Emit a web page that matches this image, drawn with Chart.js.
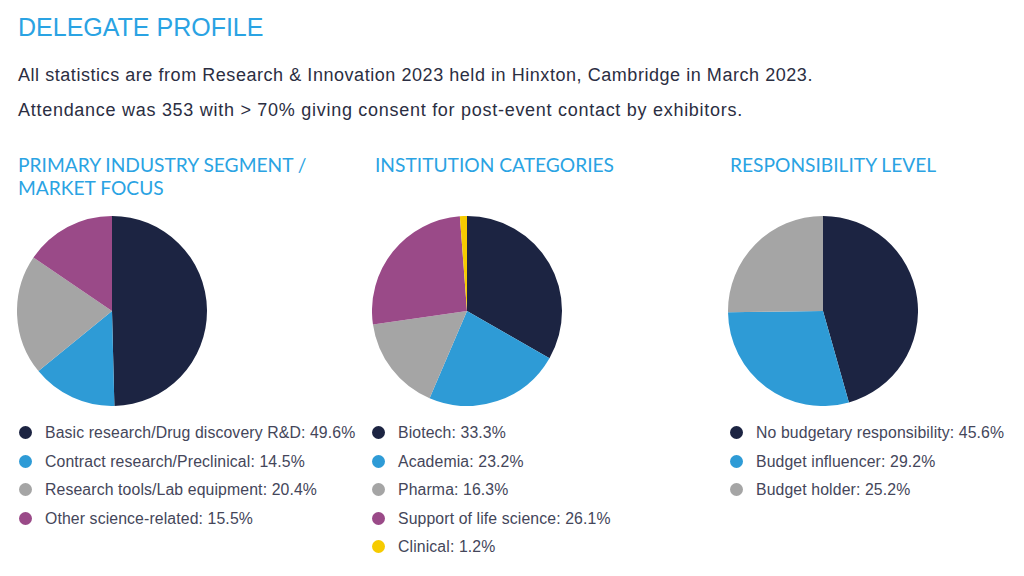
<!DOCTYPE html>
<html>
<head>
<meta charset="utf-8">
<script src="https://cdn.jsdelivr.net/npm/chart.js@4/dist/chart.umd.min.js"></script>
<style>
  html, body { margin: 0; padding: 0; background: #fff; }
  body { width: 1024px; height: 576px; position: relative; overflow: hidden; font-family: "Liberation Sans", Arial, sans-serif; }
  .title { position: absolute; left: 18px; top: 13px; font-size: 25px; color: #2aa3e3; white-space: nowrap; }
  .sub { position: absolute; left: 18px; font-size: 18px; letter-spacing: 0.55px; color: #2b2e42; white-space: nowrap; }
  .head { position: absolute; top: 153px; font-family: Lato, sans-serif; font-size: 19.2px; line-height: 23px; color: #2aa3e3; }
  .pie { position: absolute; top: 216px; width: 190px; height: 190px; }
  .legend { position: absolute; top: 420px; font-size: 15.8px; letter-spacing: 0.12px; color: #44465a; }
  .legend div { height: 28.5px; line-height: 26px; white-space: nowrap; position: relative; padding-left: 26px; }
  .legend span.dot { position: absolute; left: 0; top: 6px; width: 13px; height: 13px; border-radius: 50%; }
</style>
</head>
<body>
<div class="title">DELEGATE PROFILE</div>
<div class="sub" style="top:65px">All statistics are from Research &amp; Innovation 2023 held in Hinxton, Cambridge in March 2023.</div>
<div class="sub" style="top:100px; letter-spacing:0.72px">Attendance was 353 with &gt; 70% giving consent for post-event contact by exhibitors.</div>

<div class="head" style="left:18px">PRIMARY INDUSTRY SEGMENT /<br>MARKET FOCUS</div>
<div class="head" style="left:375px">INSTITUTION CATEGORIES</div>
<div class="head" style="left:730px">RESPONSIBILITY LEVEL</div>

<div class="pie" style="left:17px"><canvas id="pie1"></canvas></div>
<div class="pie" style="left:372px"><canvas id="pie2"></canvas></div>
<div class="pie" style="left:728px"><canvas id="pie3"></canvas></div>

<div class="legend" id="legend1" style="left:19px"></div>
<div class="legend" id="legend2" style="left:372px"></div>
<div class="legend" id="legend3" style="left:730px"></div>

<script>
// Primary industry segment
const industryLabels = ['Basic research/Drug discovery R&D', 'Contract research/Preclinical', 'Research tools/Lab equipment', 'Other science-related'];
const industryValues = [49.6, 14.5, 20.4, 15.5];

// Institution categories
const institutionLabels = ['Biotech', 'Academia', 'Pharma', 'Support of life science', 'Clinical'];
const institutionValues = [33.3, 23.2, 16.3, 26.1, 1.2];

// Responsibility level
const responsibilityLabels = ['No budgetary responsibility', 'Budget influencer', 'Budget holder'];
const responsibilityValues = [45.6, 29.2, 25.2];

const palette = ['#1c2442', '#2e9bd6', '#a5a5a5', '#9a4a88', '#f6cb00'];

function makePie(canvasId, legendId, labels, values) {
  const colors = palette.slice(0, values.length);
  new Chart(document.getElementById(canvasId), {
    type: 'pie',
    data: {
      labels: labels,
      datasets: [{
        data: values,
        backgroundColor: colors,
        borderWidth: 0
      }]
    },
    options: {
      responsive: true,
      maintainAspectRatio: false,
      animation: false,
      layout: { padding: 0 },
      plugins: {
        legend: { display: false },
        tooltip: { enabled: false }
      }
    }
  });

  // legend built from the same arrays
  const box = document.getElementById(legendId);
  labels.forEach((lab, i) => {
    const row = document.createElement('div');
    const dot = document.createElement('span');
    dot.className = 'dot';
    dot.style.background = colors[i];
    row.appendChild(dot);
    row.appendChild(document.createTextNode(lab + ': ' + values[i].toFixed(1) + '%'));
    box.appendChild(row);
  });
}

makePie('pie1', 'legend1', industryLabels, industryValues);
makePie('pie2', 'legend2', institutionLabels, institutionValues);
makePie('pie3', 'legend3', responsibilityLabels, responsibilityValues);
</script>
</body>
</html>
